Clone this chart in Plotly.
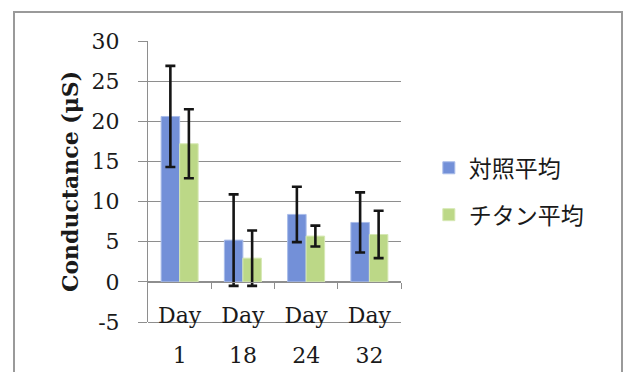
import plotly.graph_objects as go

categories = ["Day 1", "Day 18", "Day 24", "Day 32"]
day_words = ["Day", "Day", "Day", "Day"]
day_numbers = ["1", "18", "24", "32"]

control_mean = [20.6, 5.2, 8.4, 7.4]
control_err = [6.3, 5.7, 3.45, 3.75]
titanium_mean = [17.2, 2.95, 5.7, 5.9]
titanium_err = [4.3, 3.45, 1.3, 2.95]

series_names = ["対照平均", "チタン平均"]
y_ticks = [-5, 0, 5, 10, 15, 20, 25, 30]
y_ticktext = ["-5", "0", "5", "10", "15", "20", "25", "30"]

YMIN, YMAX = -5, 30
SERIF = "DejaVu Serif"
GRID = "#8e8e8e"
n = len(categories)
idx = list(range(n))

fig = go.Figure()
fig.add_trace(go.Bar(
    x=categories, y=control_mean, name=series_names[0],
    marker=dict(color="#7390d8", line=dict(color="#a9bce9", width=1)),
    error_y=dict(type="data", array=control_err, visible=True,
                 color="#151515", thickness=2.6, width=5),
    legendgroup="a",
))
fig.add_trace(go.Bar(
    x=categories, y=titanium_mean, name=series_names[1],
    marker=dict(color="#bcd887", line=dict(color="#d6e8b4", width=1)),
    error_y=dict(type="data", array=titanium_err, visible=True,
                 color="#151515", thickness=2.6, width=5),
    legendgroup="b",
))
# invisible helper traces so the overlay axes are drawn
for ax in ("x2", "x3"):
    fig.add_trace(go.Scatter(
        x=idx, y=control_mean, xaxis=ax, yaxis="y", mode="markers",
        marker=dict(opacity=0), showlegend=False, hoverinfo="skip",
    ))

fig.update_layout(
    width=626, height=372,
    margin=dict(l=148, r=225, t=41, b=50, autoexpand=False),
    paper_bgcolor="white", plot_bgcolor="white",
    barmode="group", bargap=0.415, bargroupgap=0,
    font=dict(family=SERIF, size=20, color="#1a1a1a"),
    xaxis=dict(
        type="category", range=[-0.5, n - 0.5],
        tickmode="array", tickvals=categories, ticktext=day_words,
        showgrid=False, showline=False, ticks="", zeroline=False,
        ticklabelstandoff=-22,
        tickfont=dict(family=SERIF, size=22, color="#1a1a1a"),
    ),
    xaxis2=dict(
        overlaying="x", anchor="free", position=0, type="linear",
        range=[-0.5, n - 0.5], tickmode="array",
        tickvals=idx, ticktext=day_numbers,
        showgrid=False, showline=True, linecolor=GRID, linewidth=1,
        ticks="", zeroline=False,
        ticklabelstandoff=14,
        tickfont=dict(family=SERIF, size=22, color="#1a1a1a"),
    ),
    xaxis3=dict(
        overlaying="x", anchor="free",
        position=(0 - YMIN) / (YMAX - YMIN), type="linear",
        range=[-0.5, n - 0.5], tickmode="array",
        tickvals=[i + 0.5 for i in idx],
        showgrid=False, showline=True, linecolor=GRID, linewidth=1,
        ticks="outside", ticklen=6, tickcolor=GRID, tickwidth=1,
        showticklabels=False, zeroline=False,
    ),
    yaxis=dict(
        range=[YMIN, YMAX], tickmode="array", tickvals=y_ticks,
        ticktext=y_ticktext,
        showgrid=True, gridcolor=GRID, gridwidth=1,
        showline=True, linecolor=GRID, linewidth=1,
        ticks="outside", ticklen=9, tickcolor=GRID,
        zeroline=False, ticklabelstandoff=14,
        tickfont=dict(family=SERIF, size=22, color="#1a1a1a"),
        title=dict(text="<b>Conductance (μS)</b>", standoff=6,
                   font=dict(family=SERIF, size=22, color="#1a1a1a")),
    ),
    legend=dict(
        x=1.11, xanchor="left", y=0.465, yanchor="middle",
        font=dict(family="Noto Sans CJK JP", size=23, color="#1a1a1a"),
        tracegroupgap=14, itemwidth=30, bgcolor="rgba(0,0,0,0)",
    ),
    shapes=[dict(
        type="rect", xref="paper", yref="paper",
        x0=(14 - 148) / 253, x1=(622 - 148) / 253,
        y0=-0.4, y1=(322 - 12) / 281,
        line=dict(color="#9a9a9a", width=2), fillcolor="rgba(0,0,0,0)",
        layer="below",
    )],
)

fig.write_html("out.html", config={"displayModeBar": False},
               post_script="document.body.style.margin='0';document.body.style.overflow='hidden';")
